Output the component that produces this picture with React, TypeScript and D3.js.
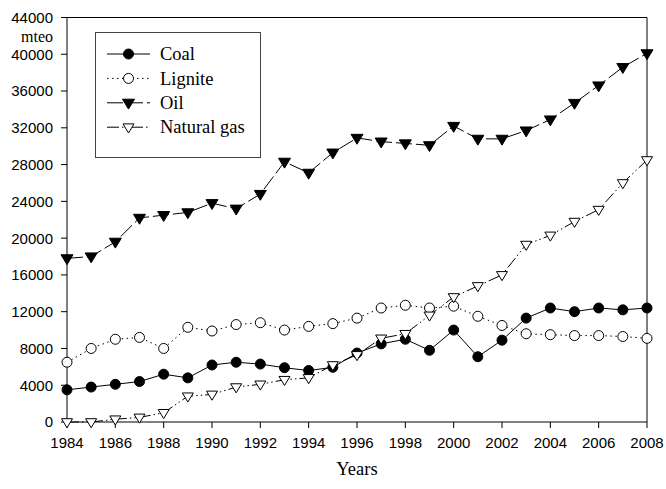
import React from "react";
import * as d3 from "d3";

const years = [1984,1985,1986,1987,1988,1989,1990,1991,1992,1993,1994,1995,1996,1997,1998,1999,2000,2001,2002,2003,2004,2005,2006,2007,2008];
const coal = [3500,3800,4100,4400,5200,4800,6200,6500,6300,5900,5600,5950,7500,8500,9000,7800,10000,7100,8900,11300,12400,12000,12400,12200,12400];
const lignite = [6500,8000,9000,9200,8000,10300,9900,10600,10800,10000,10400,10700,11300,12400,12700,12400,12600,11500,10500,9600,9500,9400,9400,9300,9100];
const oil = [17800,18000,19600,22200,22500,22800,23800,23200,24800,28300,27100,29300,30900,30500,30300,30100,32200,30800,30800,31700,32900,34700,36600,38600,40100];
const gas = [0,0,300,500,1000,2800,3000,3800,4100,4600,4800,6200,7300,9100,9600,11600,13600,14800,16000,19300,20300,21800,23100,26000,28500];
const yTicks = [0,4000,8000,12000,16000,20000,24000,28000,32000,36000,40000,44000];
const xTicks = [1984,1986,1988,1990,1992,1994,1996,1998,2000,2002,2004,2006,2008];

type Marker = "filledCircle" | "openCircle" | "filledTri" | "openTri";
const seriesList: { name: string; values: number[]; marker: Marker; dash: string }[] = [
  { name: "Coal", values: coal, marker: "filledCircle", dash: "none" },
  { name: "Lignite", values: lignite, marker: "openCircle", dash: "1.5,3.5" },
  { name: "Oil", values: oil, marker: "filledTri", dash: "16,4" },
  { name: "Natural gas", values: gas, marker: "openTri", dash: "12,3,1.5,3,1.5,3" },
];

const sans = "Liberation Sans, Arial, sans-serif";
const serif = "Liberation Serif, Times New Roman, Times, serif";

function MarkerShape({ type, x, y }: { type: Marker; x: number; y: number }) {
  if (type === "filledCircle") return <circle cx={x} cy={y} r={5} fill="#000" stroke="#000" strokeWidth={1} />;
  if (type === "openCircle") return <circle cx={x} cy={y} r={5} fill="#fff" stroke="#000" strokeWidth={1} />;
  const s = type === "filledTri" ? 6 : 5.5;
  const path = `M${x - s},${y - s * 0.6} L${x + s},${y - s * 0.6} L${x},${y + s * 1.05} Z`;
  return <path d={path} fill={type === "filledTri" ? "#000" : "#fff"} stroke="#000" strokeWidth={1} />;
}

export default function App() {
  const W = 666, H = 489;
  const x = d3.scaleLinear().domain([1984, 2008]).range([67, 647]);
  const y = d3.scaleLinear().domain([0, 44000]).range([422, 17.5]);
  const line = d3.line<number>().x((_, i) => x(years[i])).y((v) => y(v));

  return (
    <svg width={W} height={H} style={{ position: "absolute", left: 0, top: 0, background: "#fff" }}>
      <rect x={0} y={0} width={W} height={H} fill="#fff" />
      {/* frame */}
      <line x1={67} y1={y(44000)} x2={647} y2={y(44000)} stroke="#000" strokeWidth={1} />
      <line x1={647} y1={y(44000)} x2={647} y2={422} stroke="#000" strokeWidth={1} />
      <line x1={67} y1={y(44000)} x2={67} y2={422} stroke="#000" strokeWidth={1} />
      <line x1={67} y1={422} x2={647} y2={422} stroke="#000" strokeWidth={1} />
      {/* y ticks */}
      {yTicks.map((t) => (
        <g key={t}>
          <line x1={61} x2={67} y1={y(t)} y2={y(t)} stroke="#000" strokeWidth={1} />
          <text x={53} y={y(t)} dy="0.36em" textAnchor="end" style={{ fontFamily: sans, fontSize: "15px" }} fill="#000">{t}</text>
        </g>
      ))}
      <text x={53} y={41.5} textAnchor="end" style={{ fontFamily: serif, fontSize: "16px" }}>mteo</text>
      {/* x ticks */}
      {xTicks.map((t) => (
        <g key={t}>
          <line x1={x(t)} x2={x(t)} y1={422} y2={428} stroke="#000" strokeWidth={1} />
          <text x={x(t)} y={448} textAnchor="middle" style={{ fontFamily: sans, fontSize: "15px" }} fill="#000">{t}</text>
        </g>
      ))}
      <text x={357} y={475} textAnchor="middle" style={{ fontFamily: serif, fontSize: "18.5px" }}>Years</text>
      {/* series lines */}
      {seriesList.map((s) => (
        <path key={s.name} d={line(s.values) || ""} fill="none" stroke="#000" strokeWidth={1}
          strokeDasharray={s.dash === "none" ? undefined : s.dash} />
      ))}
      {/* markers */}
      {seriesList.map((s) => (
        <g key={s.name + "m"}>
          {s.values.map((v, i) => <MarkerShape key={i} type={s.marker} x={x(years[i])} y={y(v)} />)}
        </g>
      ))}
      {/* legend */}
      <rect x={95.5} y={32.5} width={165} height={125} fill="#fff" stroke="#444" strokeWidth={1} />
      {seriesList.map((s, i) => {
        const ly = 54 + i * 24.4;
        return (
          <g key={s.name + "l"}>
            <line x1={107} x2={150} y1={ly} y2={ly} stroke="#000" strokeWidth={1}
              strokeDasharray={s.dash === "none" ? undefined : s.dash} />
            <MarkerShape type={s.marker} x={128.5} y={ly} />
            <text x={160} y={ly} dy="0.33em" style={{ fontFamily: serif, fontSize: "18.5px" }}>{s.name}</text>
          </g>
        );
      })}
    </svg>
  );
}
